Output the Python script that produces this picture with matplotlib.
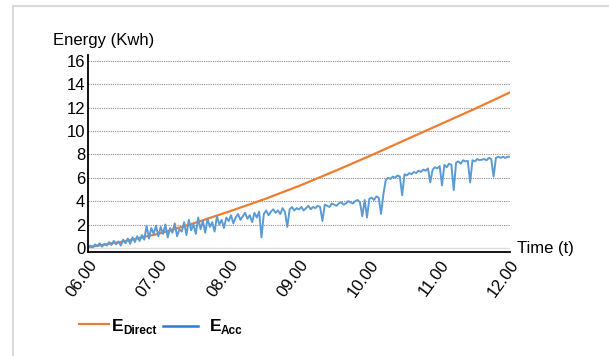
import numpy as np
import matplotlib
matplotlib.use("Agg")
import matplotlib.pyplot as plt
from matplotlib.lines import Line2D

plt.rcParams['font.family'] = ['Liberation Sans', 'DejaVu Sans']

# time axis (hours) and tick labels
tick_pos = [6, 7, 8, 9, 10, 11, 12]
tick_lbl = ["06.00", "07.00", "08.00", "09.00", "10.00", "11.00", "12.00"]
y_ticks = [0, 2, 4, 6, 8, 10, 12, 14, 16]

# E_Direct, every 30 min
t_direct = [6.0, 6.5, 7.0, 7.5, 8.0, 8.5, 9.0, 9.5, 10.0, 10.5, 11.0, 11.5, 12.0]
e_direct = [0.05, 0.55, 1.2, 2.1, 3.1, 4.15, 5.3, 6.55, 7.85, 9.2, 10.55, 11.9, 13.3]

# E_Acc, every 2 min
e_acc = [
    # 06
    0.1, 0.2, 0.05, 0.3, 0.15, 0.4, 0.1, 0.35, 0.2, 0.5, 0.25, 0.6, 0.3, 0.55, 0.2,
    0.7, 0.4, 0.8, 0.35, 0.9, 0.5, 1.0, 0.6, 1.1, 0.7, 1.9, 0.8, 1.7, 1.2, 1.9,
    # 07
    1.0, 1.8, 1.2, 2.0, 0.9, 1.7, 1.3, 2.1, 1.0, 1.6, 1.4, 2.2, 1.1, 2.4, 1.5,
    2.0, 1.2, 2.6, 1.6, 2.3, 1.3, 2.5, 1.8, 2.2, 1.4, 2.7, 2.0, 2.4, 1.7, 2.6,
    # 08
    2.3, 2.8, 2.1, 2.6, 2.9, 2.4, 2.7, 3.0, 2.5, 2.8, 2.2, 3.0, 2.6, 3.1, 0.9,
    2.9, 3.2, 2.8, 3.1, 3.3, 3.0, 3.2, 2.9, 3.4, 3.1, 1.8, 3.3, 3.5, 3.2, 3.4,
    # 09
    3.3, 3.5, 3.2, 3.4, 3.6, 3.3, 3.5, 3.4, 3.6, 3.5, 2.3, 3.7, 3.6, 3.5, 3.8,
    3.7, 3.6, 3.8, 3.9, 3.7, 3.8, 4.0, 3.9, 3.8, 4.0, 4.1, 3.9, 2.7, 4.1, 2.6,
    # 10
    4.2, 4.3, 4.1, 4.4, 4.3, 2.9, 4.6, 5.8, 6.0, 5.9, 6.1, 6.0, 6.2, 6.1, 4.5,
    6.3, 6.2, 6.4, 6.3, 6.5, 6.4, 6.6, 6.5, 6.7, 6.6, 6.8, 5.6, 6.7, 6.9, 6.8,
    # 11
    7.0, 5.35, 7.1, 6.9, 7.2, 7.1, 4.95, 7.3, 7.4, 7.2, 7.5, 7.4, 7.45, 5.6, 7.5,
    7.4, 7.6, 7.5, 7.55, 7.6, 7.5, 7.7, 7.6, 6.1, 7.7, 7.8, 7.7, 7.8, 7.7, 7.8,
    7.8,
]
t_acc = np.linspace(6, 12, len(e_acc))

orange = "#ED7D31"
blue = "#5B9BD5"
blue_leg = "#2E7BCF"

fig = plt.figure(figsize=(6.09, 3.56), dpi=100)
ax = fig.add_axes([88/609, 1-252/356, (510-88)/609, (252-55)/356])

ax.plot(t_direct, e_direct, color=orange, lw=1.6)
ax.plot(t_acc, e_acc, color=blue, lw=1.4)

ax.set_xlim(6, 12)
ax.set_ylim(-0.35, 16.5)
ax.set_yticks(y_ticks)
ax.set_yticklabels([str(v) for v in y_ticks], fontsize=12)
ax.set_xticks(tick_pos)
ax.set_xticklabels(tick_lbl, fontsize=12, rotation=54, ha='right', va='top',
                   rotation_mode='anchor')
ax.tick_params(length=0, pad=2)
ax.tick_params(axis='x', pad=4)
for y in y_ticks[1:]:
    ax.axhline(y, color='#8c8c8c', lw=0.8, ls=(0, (1, 1)), zorder=0)
ax.axhline(0, color='#dddddd', lw=1.0, zorder=0)
for s in ['top', 'right']:
    ax.spines[s].set_visible(False)
ax.spines['left'].set_linewidth(1.3)
ax.spines['bottom'].set_linewidth(1.3)

fig.text(53/609, 1-41/356, "Energy (Kwh)", fontsize=12, va='center', ha='left')
fig.text(517/609, 1-249/356, "Time (t)", fontsize=12, va='center', ha='left')

# legend
fig.add_artist(Line2D([79/609, 109/609], [1-324/356, 1-324/356], color=orange, lw=1.6))
fig.add_artist(Line2D([163/609, 198/609], [1-326/356, 1-326/356], color=blue_leg, lw=1.8))
fig.text(112/609, 1-331/356, "E", fontsize=12.5, fontweight='bold', va='baseline')
fig.text(123/609, 1-334/356, "Direct", fontsize=8.5, fontweight='bold', va='baseline')
fig.text(210/609, 1-331/356, "E", fontsize=12.5, fontweight='bold', va='baseline')
fig.text(221/609, 1-334/356, "Acc", fontsize=8.5, fontweight='bold', va='baseline')

# outer frame
fig.add_artist(Line2D([13/609, 13/609], [0, 1-6/356], color='#d9d9d9', lw=1.5))
fig.add_artist(Line2D([13/609, 1], [1-6/356, 1-6/356], color='#d9d9d9', lw=1.5))

fig.savefig("out.png", dpi=100)
